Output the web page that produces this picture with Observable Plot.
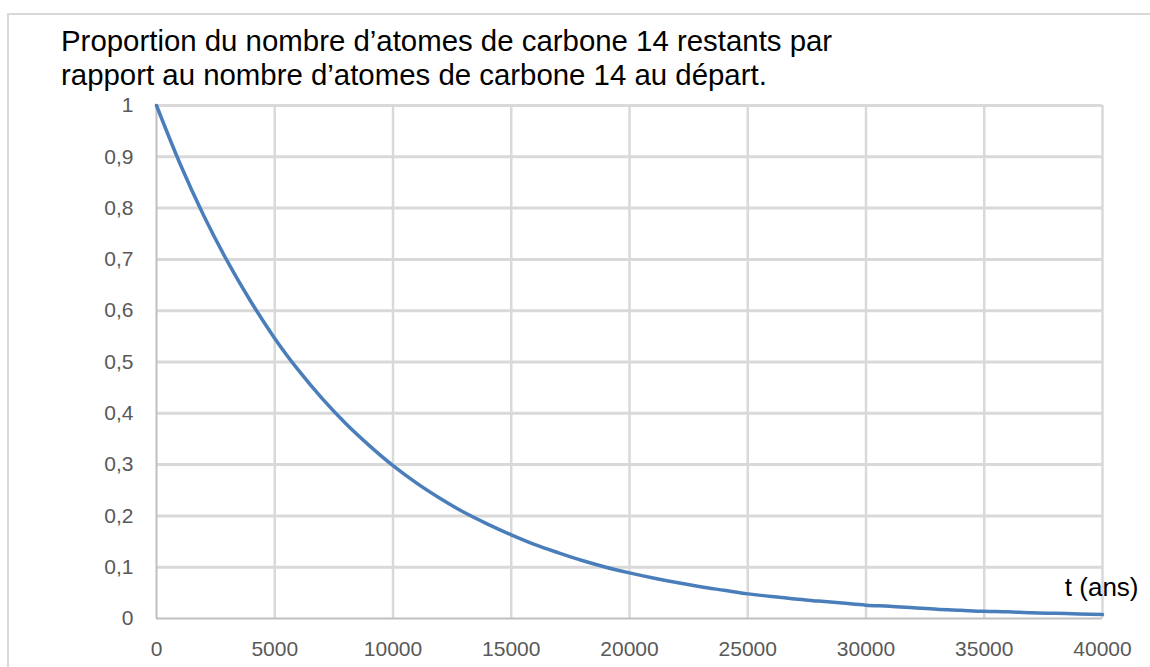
<!DOCTYPE html>
<html>
<head>
<meta charset="utf-8">
<script src="https://cdn.jsdelivr.net/npm/d3@7"></script>
<script src="https://cdn.jsdelivr.net/npm/@observablehq/plot@0.6"></script>
<style>
  html, body { margin: 0; padding: 0; background: #fff; }
  #wrap { position: relative; width: 1150px; height: 667px; overflow: hidden; font-family: "Liberation Sans", Arial, sans-serif; }
  #frame { position: absolute; left: 7px; top: 13px; width: 1200px; height: 700px; border: 2px solid #d9d9d9; box-sizing: border-box; }
  #title { position: absolute; left: 61px; top: 24px; font-size: 29.4px; line-height: 34px; color: #000; white-space: nowrap; }
  #chart { position: absolute; left: 0; top: 0; }
</style>
</head>
<body>
<div id="wrap">
  <div id="frame"></div>
  <div id="chart"></div>
  <div id="title">Proportion du nombre d’atomes de carbone 14 restants par<br>rapport au nombre d’atomes de carbone 14 au départ.</div>
</div>
<script>
// Values (years, remaining proportion)
const years = [0, 1000, 2000, 3000, 4000, 5000, 6000, 7000, 8000, 9000, 10000,
  11000, 12000, 13000, 14000, 15000, 16000, 17000, 18000, 19000, 20000,
  21000, 22000, 23000, 24000, 25000, 26000, 27000, 28000, 29000, 30000,
  31000, 32000, 33000, 34000, 35000, 36000, 37000, 38000, 39000, 40000];
const proportion = [1.000, 0.886, 0.785, 0.696, 0.617, 0.546, 0.484, 0.429, 0.380, 0.337, 0.298,
  0.264, 0.234, 0.207, 0.184, 0.163, 0.144, 0.128, 0.113, 0.100, 0.089,
  0.079, 0.070, 0.062, 0.055, 0.048, 0.043, 0.038, 0.034, 0.030, 0.026,
  0.024, 0.021, 0.018, 0.016, 0.014, 0.013, 0.011, 0.010, 0.009, 0.008];
const xTicks = [0, 5000, 10000, 15000, 20000, 25000, 30000, 35000, 40000];
const yTicks = [0, 0.1, 0.2, 0.3, 0.4, 0.5, 0.6, 0.7, 0.8, 0.9, 1];
const axisLabel = ["t (ans)"];

const data = years.map((t, i) => ({t, p: proportion[i]}));
const fmtY = d => String(d).replace(".", ",");

const chart = Plot.plot({
  width: 1150,
  height: 667,
  marginLeft: 156,
  marginRight: 48,
  marginTop: 105,
  marginBottom: 49,
  style: {fontFamily: "'Liberation Sans', Arial, sans-serif", fontSize: "21px", background: "transparent", overflow: "visible"},
  x: {domain: [0, 40000]},
  y: {domain: [0, 1]},
  marks: [
    Plot.ruleX(xTicks.slice(1), {stroke: "#d9d9d9", strokeWidth: 2.5}),
    Plot.ruleY(yTicks.slice(1), {stroke: "#d9d9d9", strokeWidth: 3}),
    Plot.ruleX([0], {stroke: "#bfbfbf", strokeWidth: 2}),
    Plot.ruleY([0], {stroke: "#bfbfbf", strokeWidth: 2}),
    Plot.axisX({ticks: xTicks, tickFormat: d => String(d), tickSize: 0, tickPadding: 23, fontSize: 21, fill: "#595959", label: null}),
    Plot.axisY({ticks: yTicks, tickFormat: fmtY, tickSize: 0, tickPadding: 23, fontSize: 21, fill: "#595959", label: null}),
    Plot.line(data, {x: "t", y: "p", stroke: "#4a7ebb", strokeWidth: 3.5, curve: "monotone-x"}),
    Plot.text(axisLabel, {x: 40000, y: 0, text: d => d, dx: 36, dy: -31, textAnchor: "end", fontSize: 26, fill: "#000"})
  ]
});
document.getElementById("chart").appendChild(chart);
</script>
</body>
</html>
